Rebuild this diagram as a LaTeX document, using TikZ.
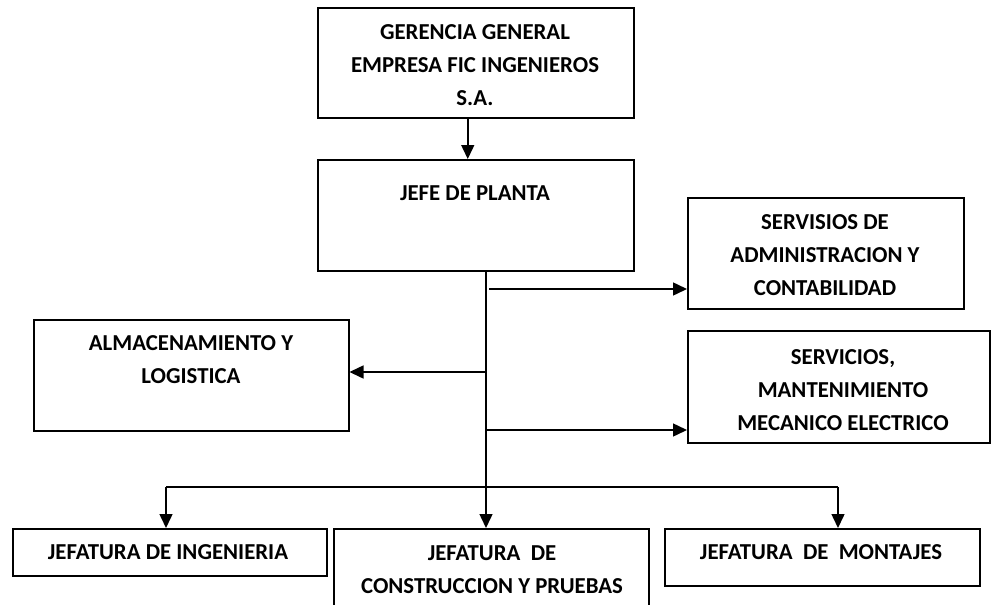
\documentclass[tikz,border=0pt]{standalone}
\usepackage{fontspec}
\setmainfont{Carlito}
\usetikzlibrary{arrows.meta}
\tikzset{
  box/.style={draw, line width=1.5pt, rectangle, inner sep=0pt, anchor=north west},
  lbl/.style={align=center, inner sep=0pt, font=\bfseries\fontsize{22.8}{33}\selectfont},
  conn/.style={line width=1.5pt},
  arr/.style={conn, -{Triangle[length=14pt,width=13pt]}},
}
\newcommand{\boxat}[5]{\node[box, minimum width=#4pt, minimum height=#5pt] (#1) at (#2,#3) {};}
\begin{document}
\begin{tikzpicture}[x=1pt,y=-1pt]
\useasboundingbox (0,0) rectangle (991,605);
% boxes
\boxat{ger}{317}{7}{316}{110}
\boxat{jefe}{317}{159}{316}{111}
\boxat{adm}{687}{197}{276}{111}
\boxat{alm}{33}{319}{315}{111}
\boxat{ser}{687}{330}{302}{112}
\boxat{ing}{12}{528}{314}{47}
\boxat{con}{333}{528}{315}{90}
\boxat{mon}{664}{528}{315}{57}
% texts
\node[lbl] (tger) at (475,65) {GERENCIA GENERAL\\EMPRESA FIC INGENIEROS\\S.A.};
\node[lbl] (tjefe) at (475,193) {JEFE DE PLANTA};
\node[lbl] (tadm) at (825,255) {SERVISIOS DE\\ADMINISTRACION Y\\CONTABILIDAD};
\node[lbl] (talm) at (191,360) {ALMACENAMIENTO Y\\LOGISTICA};
\node[lbl] (tser) at (843,390) {SERVICIOS,\\MANTENIMIENTO\\MECANICO ELECTRICO};
\node[lbl] (ting) at (168,552) {JEFATURA DE INGENIERIA};
\node[lbl] (tcon) at (492,570) {JEFATURA~~DE\\CONSTRUCCION Y PRUEBAS};
\node[lbl] (tmon) at (821,552) {JEFATURA~~DE~~MONTAJES};
% junction coordinates
\coordinate (t0) at (486,270);
\coordinate (ja) at (489,289);
\coordinate (jl) at (486,372);
\coordinate (js) at (486,430);
\coordinate (jb) at (486,487);
\coordinate (bl) at (166,487);
\coordinate (br) at (838,487);
% connectors
\draw[arr] ([xshift=-8pt]ger.south) -- ([xshift=-8pt]jefe.north);
\draw[arr] (t0) -- (jb) -- (jb |- con.north);
\draw[arr] (ja) -- (ja -| adm.west);
\draw[arr] (jl) -- (jl -| alm.east);
\draw[arr] (js) -- (js -| ser.west);
\draw[conn] (bl) -- (br);
\draw[arr] (bl) -- (bl |- ing.north);
\draw[arr] (br) -- (br |- mon.north);
\end{tikzpicture}
\end{document}
